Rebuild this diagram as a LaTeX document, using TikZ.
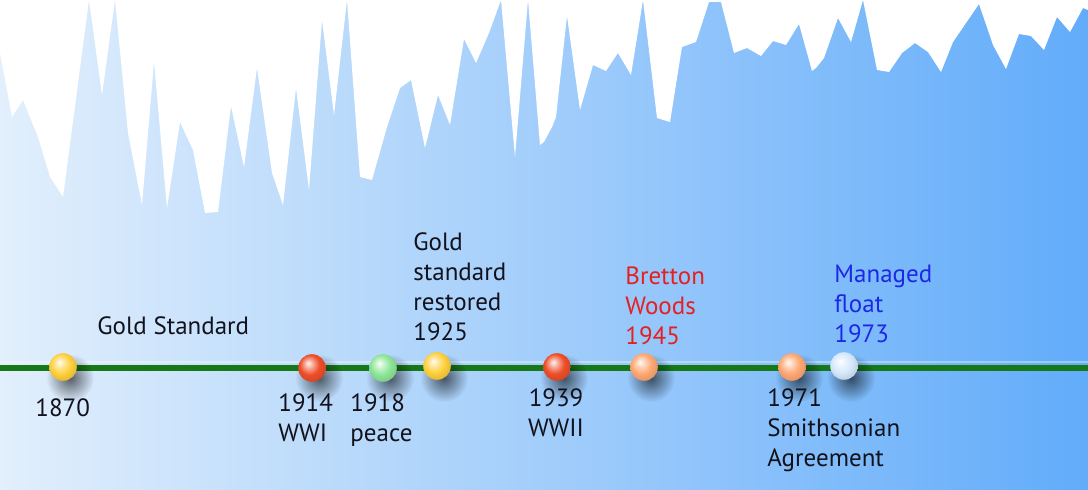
\documentclass[tikz,border=0pt]{standalone}
\usepackage{fontspec}
\setmainfont{PT Sans}
\usetikzlibrary{fadings}
\makeatletter
\pgfdeclareradialshading[tikz@ball]{gloss}{\pgfqpoint{-7bp}{9bp}}{%
 color(0bp)=(tikz@ball!5!white);
 color(8bp)=(tikz@ball!50!white);
 color(18bp)=(tikz@ball);
 color(26bp)=(tikz@ball!92!black);
 color(50bp)=(tikz@ball!70!black)}
\makeatother
\definecolor{bgL}{RGB}{226,239,252}
\definecolor{bgM}{RGB}{142,196,247}
\definecolor{bgR}{RGB}{98,172,250}
\definecolor{linegreen}{RGB}{22,120,22}
\definecolor{ink}{RGB}{18,18,28}
\definecolor{inkred}{RGB}{228,32,32}
\definecolor{inkblue}{RGB}{28,40,228}
\definecolor{cgold}{RGB}{255,208,60}
\definecolor{cred}{RGB}{238,78,40}
\definecolor{cgreen}{RGB}{140,230,150}
\definecolor{cpeach}{RGB}{255,168,115}
\definecolor{cpale}{RGB}{214,232,252}
\tikzfading[name=softshadow, inner color=transparent!40, outer color=transparent!100]
\begin{document}
\begin{tikzpicture}[x=0.5pt,y=-0.5pt,
  lbl/.style={font=\fontsize{12.5}{15}\selectfont, inner sep=0pt, text=ink, align=left, anchor=north west},
  ballnode/.style={circle, inner sep=0pt, minimum size=13.8pt, ball color=#1, shading=gloss},
  shadowblob/.style={fill=black, path fading=softshadow}
]
\useasboundingbox (0,0) rectangle (1088,490);
% background
\shade[left color=bgL, middle color=bgM, right color=bgR] (0,0) rectangle (1088,490);
% white sky above the jagged silhouette
\fill[white] (0,0) -- (0,53) -- (12,117) -- (23,100) -- (38,137) -- (50,177) -- (63,197)
 -- (89,0) -- (102,95) -- (115,0) -- (128,133) -- (142,205) -- (154,62) -- (167,208)
 -- (180,122) -- (193,150) -- (205,213) -- (218,212) -- (231,106) -- (244,167) -- (257,68)
 -- (272,173) -- (283,205) -- (296,88) -- (309,190) -- (322,20) -- (334,115) -- (347,0)
 -- (360,177) -- (372,180) -- (387,127) -- (400,88) -- (411,80) -- (425,148) -- (438,95)
 -- (450,125) -- (464,39) -- (476,63) -- (489,33) -- (501,0) -- (515,157) -- (528,0)
 -- (540,145) -- (544,142) -- (552,127) -- (556,117) -- (567,16) -- (580,110) -- (593,65)
 -- (606,71) -- (618,53) -- (631,75) -- (643,0) -- (657,118) -- (670,122) -- (682,47)
 -- (696,42) -- (709,2) -- (721,2) -- (734,53) -- (747,48) -- (761,56) -- (773,41)
 -- (786,45) -- (799,24) -- (812,71) -- (816,68) -- (824,58) -- (838,18) -- (851,42)
 -- (863,0) -- (877,70) -- (889,72) -- (902,53) -- (915,43) -- (928,52) -- (941,72)
 -- (953,42) -- (966,23) -- (979,4) -- (993,45) -- (1006,69) -- (1019,34) -- (1031,36)
 -- (1044,50) -- (1057,17) -- (1070,32) -- (1083,8) -- (1088,10) -- (1088,0) -- cycle;
% timeline
\coordinate (lstart) at (0,368);
\coordinate (lend) at (1088,368);
\draw[white, opacity=0.35, line width=0.8pt] ([yshift=3.0pt]lstart) -- ([yshift=3.0pt]lend);
\draw[linegreen, line width=2.6pt] (lstart) -- (lend);
% ball shadows
\foreach \bx in {63,312,383,437,557,644,792,844}
  \fill[shadowblob] (\bx+7,378) circle[radius=12pt];
% balls
\node[ballnode=cgold]  (b1870) at (63,367) {};
\node[ballnode=cred]   (b1914) at (312,368) {};
\node[ballnode=cgreen] (b1918) at (383,368) {};
\node[ballnode=cgold]  (b1925) at (437,366) {};
\node[ballnode=cred]   (b1939) at (557,367) {};
\node[ballnode=cpeach] (b1945) at (644,367) {};
\node[ballnode=cpeach] (b1971) at (792,367) {};
\node[ballnode=cpale]  (b1973) at (844,366) {};
% labels
\node[lbl] (t1870) at (35,398) {1870};
\node[lbl] (tgold) at (97,316) {Gold Standard};
\node[lbl] (t1914) at (278,393) {1914\\WWI};
\node[lbl] (t1918) at (350,393) {1918\\peace};
\node[lbl] (t1925) at (413,232) {Gold\\standard\\restored\\1925};
\node[lbl, align=center, anchor=north] (t1939) at (556,388) {1939\\WWII};
\node[lbl, text=inkred] (t1945) at (625,266) {Bretton\\Woods\\1945};
\node[lbl] (t1971) at (767,388) {1971\\Smithsonian\\Agreement};
\node[lbl, text=inkblue] (t1973) at (834,265) {Managed\\float\\1973};
\end{tikzpicture}
\end{document}
